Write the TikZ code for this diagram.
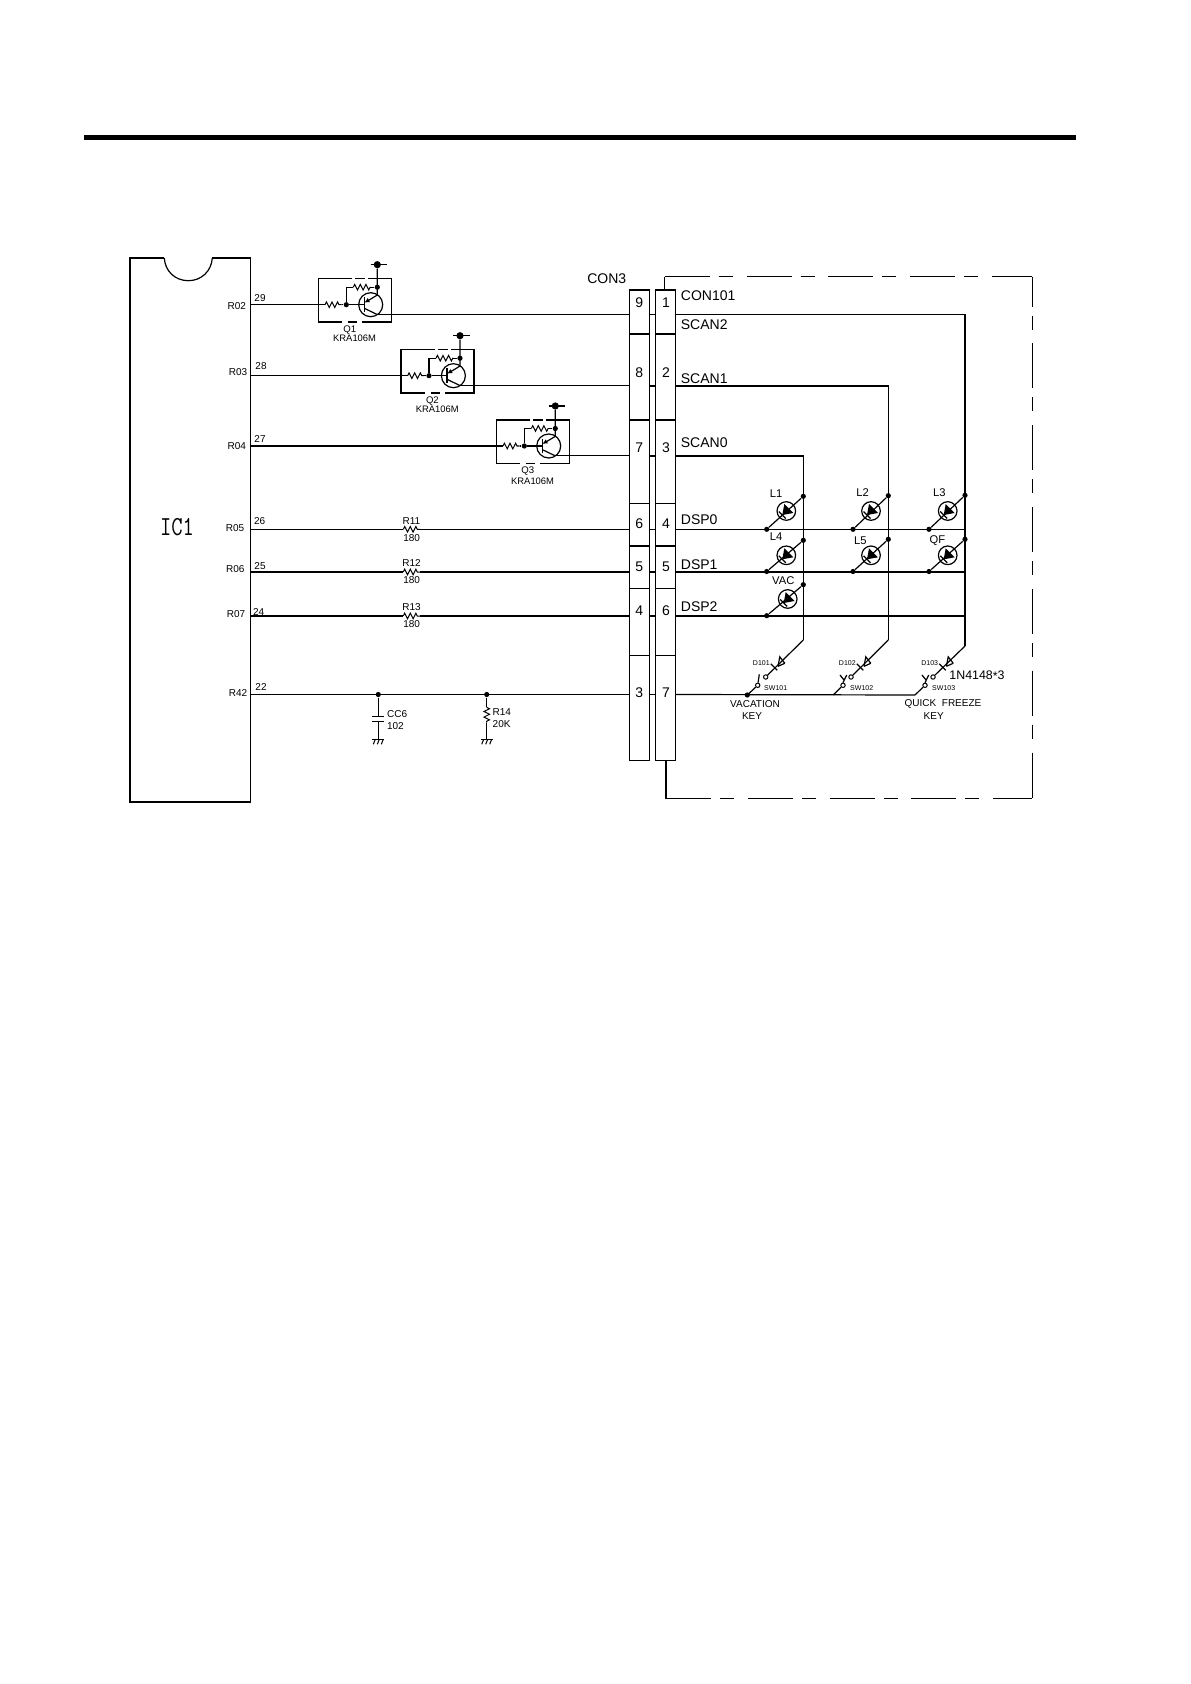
\documentclass[tikz,border=0pt]{standalone}
\usepackage{fontspec}
\setmainfont{Liberation Sans}
\usetikzlibrary{decorations.pathmorphing,arrows.meta,calc}

\tikzset{
	wire/.style={line width=0.6pt},
	frame/.style={line width=0.6pt,dash pattern=on 22.5pt off 4.5pt on 7pt off 6.9pt},
	res/.style={line width=0.5pt,decoration={zigzag,segment length=2.8pt,amplitude=1.4pt},decorate},
	cell/.style={draw,line width=0.6pt,rectangle,inner sep=0,minimum width=10pt},
	dot/.style={circle,fill,inner sep=0,minimum size=2.6pt},
	bigdot/.style={circle,fill,inner sep=0,minimum size=3.6pt},
	opendot/.style={circle,draw,line width=0.5pt,inner sep=0,minimum size=2.2pt},
	tiny/.style={inner sep=0,font=\fontsize{3.5}{3.5}\selectfont},
	small/.style={inner sep=0,font=\fontsize{5}{5}\selectfont},
	mid/.style={inner sep=0,font=\fontsize{5.6}{5.6}\selectfont},
	big/.style={inner sep=0,font=\fontsize{7}{7}\selectfont},
	gnd/.pic={
		\draw[line width=0.5pt] (-6,0) -- (6,0);
		\foreach \g in {-4,0,4}
			\draw[line width=0.5pt] (\g+1,0) -- ++(-2,5);
	}
}

\begin{document}
\begin{tikzpicture}[x=0.5pt,y=-0.5pt]
	\useasboundingbox (0,0) rectangle (1190,1684);

	% heading rule
	\fill (84,135) rectangle (1076,140);

	% IC1
	\draw[wire] (164.3,258) -- (130,258) -- (130,802) -- (250.5,802) -- (250.5,258) -- (212.3,258);
	\draw[wire] (164.3,258) .. controls (165,271) and (175,280.7) .. (188.3,280.7)
		.. controls (201.5,280.7) and (211.5,271) .. (212.3,258);
	\node[inner sep=0,font=\ttfamily\fontsize{11}{11}\selectfont] (ic) at (177,527) {\scalebox{1}[1.25]{IC1}};

	% connector cells
	\foreach \t/\b/\l/\r/\p in {290/334/9/1/303,334/420/8/2/373,420/503.3/7/3/448,503.3/546/6/4/524,546/588.3/5/5/567,588.3/655.3/4/6/611,655.3/760.3/3/7/693}{
		\node[cell,minimum height={(\b-\t)*0.5pt}] (a\l) at (639.3,{(\t+\b)/2}) {};
		\node[cell,minimum height={(\b-\t)*0.5pt}] (b\r) at (665.3,{(\t+\b)/2}) {};
		\node[big] (na\l) at (639.3,\p) {\l};
		\node[big] (nb\r) at (666,\p) {\r};
	}
	\node[big] (con3) at (606.7,279) {CON3};
	\node[big,anchor=west] (con101) at (680.5,296) {CON101};

	% stubs across the connector
	\foreach \l/\r/\y in {9/1/314.3,8/2/386,7/3/456,6/4/529.3,5/5/572,4/6/616,3/7/694.5}{
		\coordinate (w\l) at (640,\y);
		\draw[wire] (a\l.east |- w\l) -- (b\r.west |- w\l);
	}

	% IC pins
	\foreach \n/\p/\y/\nx/\ny/\px/\py in {R02/29/304.7/236.7/305.7/260/298.3,R03/28/375.7/238/372.3/261/366,R04/27/446/236.7/445.7/260/439,R05/26/529.3/235/528/259.7/521.3,R06/25/572/235.3/569/260/565.7,R07/24/616/236/614/258.7/611.7,R42/22/694.5/238/692.7/261/686.7}{
		\coordinate (p\p) at (250.5,\y);
		\node[small] (\n) at (\nx,\ny) {\n};
		\node[small] (pin\p) at (\px,\py) {\p};
	}

	% transistors
	\foreach \n/\ox/\oy/\p/\l/\k in {1/346.3/304.7/29/9/33.3,2/429/375.7/28/8/33.3,3/524.3/446/27/7/35.7}{
		\begin{scope}[shift={(\ox,\oy)}]
			\draw[wire] (6,-26) -- (-28,-26) -- (-28,17.3) -- (-4,17.3);
			\draw[wire] (2,17.3) -- (11,17.3);
			\draw[wire] (16,17.3) -- (45,17.3) -- (45,-26) -- (22,-26);
			\draw[wire] (9,-26) -- (19,-26);
			\coordinate (q\n r) at (-21.3,0);
			\coordinate (q\n c) at (30.4,9.6);
			\node[dot] (q\n b) at (0,0) {};
			\node[dot] (q\n t) at (31,-17.5) {};
			\node[bigdot] (q\n v) at (31,-40) {};
			\draw[res] (-21.3,0) -- (-4.6,0);
			\draw[wire] (-4.6,0) -- (q\n b);
			\draw[wire] (q\n b) -- (18,0);
			\draw[wire] (q\n b) -- (0,-17.5) -- (7,-17.5);
			\draw[res] (7,-17.5) -- (24,-17.5);
			\draw[wire] (24,-17.5) -- (q\n t);
			\draw[wire] (q\n v) -- (31,-9.7) -- (25,-6);
			\draw[wire,-{Latex[length=2.6pt,width=2.4pt]}] (25,-6) -- (18,-2);
			\draw[wire] (24.4,-40) -- (41,-40);
			\draw[wire] (18,-7.4) -- (18,7.4);
			\draw[wire] (18,3.6) -- (q\n c);
			\draw[wire] (24.4,0) circle (12);
			\node[small,font=\fontsize{4.8}{4.8}\selectfont] (qn\n) at (3.4,25.3) {Q\n};
			\node[small,font=\fontsize{4.7}{4.7}\selectfont] (qt\n) at (8.3,\k) {KRA106M};
		\end{scope}
		\draw[wire] (p\p) -- (q\n r);
		\draw[wire] (q\n c) -- (q\n c -| a\l.west);
	}

	% series resistors
	\foreach \n/\p/\l/\ty/\by in {R11/26/6/521/538,R12/25/5/563.3/580.3,R13/24/4/607.3/624.3}{
		\coordinate (\n a) at (403.3,0 |- p\p);
		\coordinate (\n b) at (420,0 |- p\p);
		\draw[wire] (p\p) -- (\n a);
		\draw[res] (\n a) -- (\n b);
		\draw[wire] (\n b) -- (a\l.west |- p\p);
		\node[small] (\n t) at (411.5,\ty) {\n};
		\node[small] (\n v) at (411.7,\by) {180};
	}

	% R42 line, CC6 and R14
	\node[dot] (jc) at (378.3,694.5) {};
	\node[dot] (jr) at (486.7,694.5) {};
	\draw[wire] (p22) -- (a3.west |- p22);
	\coordinate (gc) at (378.3,739.3);
	\coordinate (gr) at (486.7,739.3);
	\draw[wire] (jc) -- (378.3,716.7);
	\draw[wire] (372.3,716.7) -- (384.3,716.7);
	\draw[wire] (372.3,721.7) -- (384.3,721.7);
	\draw[wire] (378.3,721.7) -- (gc);
	\draw[wire] (jr) -- (486.7,707.3);
	\draw[res] (486.7,707.3) -- (486.7,722.7);
	\draw[wire] (486.7,722.7) -- (gr);
	\pic at (gc) {gnd};
	\pic at (gr) {gnd};
	\node[small,anchor=west] (cc6) at (386.7,713.7) {CC6};
	\node[small,anchor=west] (v102) at (386.7,725.7) {102};
	\node[small,anchor=west] (r14) at (492.3,711.7) {R14};
	\node[small,anchor=west] (v20k) at (492.3,724.3) {20K};

	% outer dashed frame, one line per side
	\coordinate (ftl) at (664.7,276.7);
	\coordinate (ftr) at (1032.3,276.7);
	\coordinate (fbr) at (1032.3,798.7);
	\coordinate (fbl) at (666,798.7);
	\draw[wire] (b1.north -| ftl) -- (ftl);
	\draw[wire] (b7.south -| fbl) -- (fbl);
	\draw[frame] (ftl) -- (ftr);
	\draw[frame,dash phase=7.5pt] (ftr) -- (fbr);
	\draw[frame] (fbl) -- (fbr);

	% scan and display lines
	\node[big,anchor=west] (scan2) at (680.5,324.3) {SCAN2};
	\node[big,anchor=west] (scan1) at (680.5,378.3) {SCAN1};
	\node[big,anchor=west] (scan0) at (680.5,442.3) {SCAN0};
	\node[big,anchor=west] (dsp0) at (680.5,519.3) {DSP0};
	\node[big,anchor=west] (dsp1) at (680.5,564.7) {DSP1};
	\node[big,anchor=west] (dsp2) at (680.5,606.3) {DSP2};

	\coordinate (k1) at (803.3,640);
	\coordinate (k2) at (888.3,640);
	\coordinate (k3) at (965,646);
	\draw[wire] (b3.east |- w7) -| (k1);
	\draw[wire] (b2.east |- w8) -| (k2);
	\draw[wire] (b1.east |- w9) -| (k3);
	\draw[wire] (b4.east |- w6) -- (k3 |- w6);
	\draw[wire] (b5.east |- w5) -- (k3 |- w5);
	\draw[wire] (b6.east |- w4) -- (k3 |- w4);

	% lamps
	\foreach \n/\t/\cx/\cy/\lx/\ly/\ux/\uy/\tx/\ty in {
		la/L1/786.3/511/766.7/529.3/803.3/496.3/776/493.7,
		lb/L2/871/511/853/529.3/888.3/495.7/862.7/492.3,
		lc/L3/947.7/511/929/529.3/965/495.3/939.3/492.3,
		ld/L4/786.3/555.3/766.7/571.5/803.3/540.3/776/536.7,
		le/L5/871/555.3/853/571.5/888.3/539.3/860.3/541,
		lf/QF/947.7/555.3/929/571.5/965/539.3/937.3/541,
		lg/VAC/787.7/599/766.7/615.7/803.3/584.7/783.3/580.7}{
		\node[dot] (\n l) at (\lx,\ly) {};
		\node[dot] (\n u) at (\ux,\uy) {};
		\draw[wire] (\n l) -- (\n u);
		\draw[wire] (\cx,\cy) circle (9.3);
		\fill (\cx,\cy) ++(7,2) -- ++(-9,-9) -- ++(-2,11) -- cycle;
		\draw[wire] (\cx,\cy) ++(-7.5,0.5) -- ++(7,7);
		\node[mid] (\n t) at (\tx,\ty) {\t};
	}

	% diodes and switches
	\foreach \n/\dx/\cx/\bx/\tag/\sx in {1/778.3/757.7/747.3/D101/775.7,2/864.3/843/833.3/D102/861.7,3/946.7/925/915/D103/943.7}{
		\coordinate (d\n) at (\dx,664.3);
		\node[opendot] (cu\n) at (\cx+8,677) {};
		\node[opendot] (cl\n) at (\cx,685.3) {};
		\coordinate (sb\n) at (\bx,695);
		\draw[wire] (k\n) -- (cu\n);
		\draw[wire] (d\n) ++(6.5,-1) -- ++(-5,-6.5) -- ++(-1.8,9.5);
		\draw[wire] (d\n) ++(6.5,-1) -- ++(-6.8,3);
		\draw[wire] (d\n) ++(-7.5,-0.5) -- ++(6.5,6.5);
		\draw[wire] (cl\n) -- (sb\n);
		\node[tiny] (t\tag) at (\dx-17,662.7) {\tag};
	}
	\node[dot] (sbdot) at (sb1) {};
	\draw[wire] (b7.east |- w3) -- (sb3);
	\draw[wire] (cl1) -- (759.3,674.3);
	\foreach \n/\x in {2/843,3/925}{
		\draw[wire] (cl\n) ++(0,-2.6) -- ++(3.7,-7.7);
		\draw[wire] (cl\n) ++(1,-5.3) -- ++(-4,-5);
	}
	\node[tiny] (sw1) at (775.7,687.7) {SW101};
	\node[tiny] (sw2) at (861.7,687.7) {SW102};
	\node[tiny] (sw3) at (943.7,687.7) {SW103};
	\node[inner sep=0,font=\fontsize{6.2}{6.2}\selectfont] (dtype) at (977,675.7) {1N4148\raisebox{-0.8pt}{*}3};
	\node[small] (kvac) at (755,704.3) {VACATION};
	\node[small] (kvk) at (752,716.3) {KEY};
	\node[small] (kqf) at (943,704.3) {QUICK\ \ FREEZE};
	\node[small] (kqk) at (933.7,715.7) {KEY};
\end{tikzpicture}
\end{document}
